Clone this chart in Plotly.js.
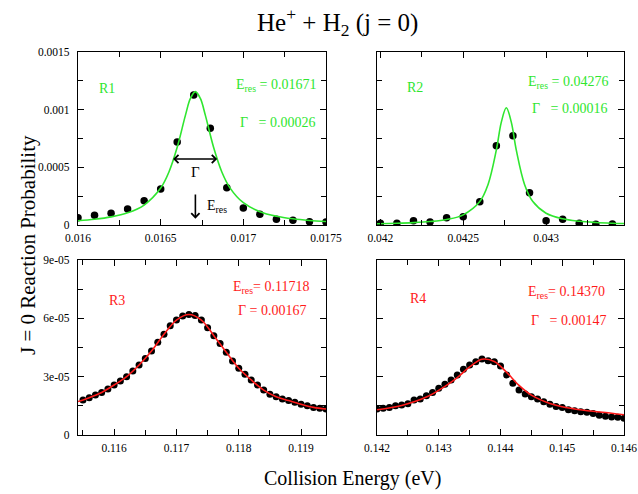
<!DOCTYPE html>
<html>
<head>
<meta charset="utf-8">
<script src="https://cdn.plot.ly/plotly-3.0.1.min.js"></script>
<style>html,body{margin:0;padding:0;background:#fff;}#chart{width:638px;height:494px;}</style>
</head>
<body>
<div id="chart"></div>
<script>
// ---------- data ----------
// R1
const r1Energy = [0.0160,0.0161,0.0162,0.0163,0.0164,0.0165,0.0166,0.0167,0.0168,0.0169,0.0170,0.0171,0.0172,0.0173,0.0174,0.0175];
const r1Prob   = [6.3e-5,8.4e-5,1.01e-4,1.39e-4,2.1e-4,3.12e-4,7.2e-4,1.127e-3,8.38e-4,3.24e-4,1.47e-4,9.3e-5,4.9e-5,4.1e-5,2.9e-5,2.6e-5];
const r1FitEnergy = [0.0160,0.0161,0.0162,0.0163,0.0164,0.0165,0.01655,0.0166,0.01665,0.01668,0.01671,0.01674,0.01677,0.01682,0.01687,0.01692,0.0170,0.0171,0.0172,0.0173,0.0174,0.0175];
const r1FitProb   = [3.7e-5,5.0e-5,7.05e-5,1.056e-4,1.73e-4,3.2e-4,4.6e-4,6.74e-4,9.53e-4,1.097e-3,1.156e-3,1.097e-3,9.53e-4,6.74e-4,4.6e-4,3.2e-4,1.93e-4,1.156e-4,7.6e-5,5.35e-5,3.96e-5,3.05e-5];
// R2
const r2Energy = [0.0420,0.0421,0.0422,0.0423,0.0424,0.0425,0.0426,0.0427,0.0428,0.0429,0.0430,0.0431,0.0432,0.0433,0.0434];
const r2Prob   = [1.5e-5,1.5e-5,3.7e-5,2.6e-5,6.3e-5,7.2e-5,2.02e-4,6.88e-4,7.74e-4,2.8e-4,3.7e-5,4.9e-5,1.5e-5,6e-6,9e-6];
const r2FitEnergy = [0.04198,0.0421,0.0422,0.0423,0.0424,0.0425,0.0426,0.04265,0.0427,0.04273,0.04276,0.04279,0.04282,0.04287,0.04292,0.0430,0.0431,0.0432,0.0433,0.0434,0.04347];
const r2FitProb   = [1.06e-5,1.47e-5,2.03e-5,2.99e-5,4.79e-5,8.8e-5,2.03e-4,3.52e-4,6.51e-4,8.92e-4,1.017e-3,8.92e-4,6.51e-4,3.52e-4,2.03e-4,1.02e-4,5.34e-5,3.25e-5,2.18e-5,1.56e-5,1.28e-5];
// R3
const r3Energy = [0.1155,0.1156,0.1157,0.1158,0.1159,0.1160,0.1161,0.1162,0.1163,0.1164,0.1165,0.1166,0.1167,0.1168,0.1169,0.1170,0.1171,0.1172,0.1173,0.1174,
                  0.1175,0.1176,0.1177,0.1178,0.1179,0.1180,0.1181,0.1182,0.1183,0.1184,0.1185,0.1186,0.1187,0.1188,0.1189,0.1190,0.1191,0.1192,0.1193,0.1194];
const r3Prob   = [1.80e-5,1.92e-5,2.06e-5,2.19e-5,2.37e-5,2.57e-5,2.78e-5,3.00e-5,3.29e-5,3.60e-5,3.94e-5,4.32e-5,4.77e-5,5.18e-5,5.62e-5,5.91e-5,6.12e-5,6.20e-5,6.14e-5,5.91e-5,
                  5.52e-5,5.11e-5,4.71e-5,4.25e-5,3.81e-5,3.43e-5,3.12e-5,2.83e-5,2.57e-5,2.31e-5,2.09e-5,1.97e-5,1.85e-5,1.77e-5,1.68e-5,1.58e-5,1.51e-5,1.42e-5,1.37e-5,1.34e-5];
const r3FitEnergy = [0.11542,0.1156,0.1158,0.1160,0.1162,0.1164,0.1166,0.1168,0.1170,0.1172,0.1174,0.1176,0.1178,0.1180,0.1182,0.1184,0.1186,0.1188,0.1190,0.1192,0.1194];
const r3FitProb   = [1.72e-5,1.92e-5,2.19e-5,2.57e-5,3.00e-5,3.60e-5,4.32e-5,5.18e-5,5.91e-5,6.20e-5,5.91e-5,5.11e-5,4.25e-5,3.43e-5,2.83e-5,2.31e-5,1.97e-5,1.77e-5,1.58e-5,1.42e-5,1.34e-5];
// R4
const r4Energy = [0.1420,0.1421,0.1422,0.1423,0.1424,0.1425,0.1426,0.1427,0.1428,0.1429,0.1430,0.1431,0.1432,0.1433,0.1434,0.1435,0.1436,0.1437,0.1438,0.1439,0.1440,
                  0.1441,0.1442,0.1443,0.1444,0.1445,0.1446,0.1447,0.1448,0.1449,0.1450,0.1451,0.1452,0.1453,0.1454,0.1455,0.1456,0.1457,0.1458,0.1459,0.1460];
const r4Prob   = [1.34e-5,1.37e-5,1.42e-5,1.51e-5,1.54e-5,1.61e-5,1.80e-5,1.85e-5,2.02e-5,2.19e-5,2.40e-5,2.61e-5,2.83e-5,3.09e-5,3.38e-5,3.60e-5,3.77e-5,3.91e-5,3.82e-5,3.77e-5,3.55e-5,
                  3.09e-5,2.66e-5,2.31e-5,2.11e-5,1.97e-5,1.85e-5,1.71e-5,1.58e-5,1.46e-5,1.41e-5,1.30e-5,1.25e-5,1.20e-5,1.17e-5,1.10e-5,1.01e-5,0.96e-5,0.93e-5,0.91e-5,0.86e-5];
const r4FitEnergy = [0.1420,0.1424,0.1428,0.1431,0.1433,0.1435,0.1437,0.1439,0.1441,0.1443,0.1445,0.1448,0.1450,0.1452,0.1455,0.1458,0.1460];
const r4FitProb   = [1.30e-5,1.52e-5,1.95e-5,2.50e-5,2.95e-5,3.50e-5,3.90e-5,3.78e-5,3.22e-5,2.55e-5,2.05e-5,1.62e-5,1.45e-5,1.34e-5,1.22e-5,1.12e-5,1.04e-5];

// tick labels
const topYTickVals = [0, 0.0005, 0.001, 0.0015];
const topYTickText = ["0", "0.0005", "0.001", "0.0015"];
const botYTickVals = [0, 3e-5, 6e-5, 9e-5];
const botYTickText = ["0", "3e-05", "6e-05", "9e-05"];
const r1XTickVals = [0.016, 0.0165, 0.017, 0.0175];
const r1XTickText = ["0.016", "0.0165", "0.017", "0.0175"];
const r2XTickVals = [0.042, 0.0425, 0.043];
const r2XTickText = ["0.042", "0.0425", "0.043"];
const r3XTickVals = [0.116, 0.117, 0.118, 0.119];
const r3XTickText = ["0.116", "0.117", "0.118", "0.119"];
const r4XTickVals = [0.142, 0.143, 0.144, 0.145, 0.146];
const r4XTickText = ["0.142", "0.143", "0.144", "0.145", "0.146"];

// ---------- drawing ----------
const W = 638, H = 494;
const FONT = "Liberation Serif, Times New Roman, serif";
const GREEN = "#2fe62f";
const RED = "#ff1a1a";

const px = v => v / W;
const py = v => 1 - v / H;

function dots(x, y, xa, ya, size) {
  return {x, y, xaxis: xa, yaxis: ya, type: "scatter", mode: "markers",
          marker: {color: "#000", size: size}, hoverinfo: "skip", showlegend: false};
}
function fit(x, y, xa, ya, color) {
  return {x, y, xaxis: xa, yaxis: ya, type: "scatter", mode: "lines",
          line: {color: color, width: 1.6, shape: "spline", smoothing: 1}, hoverinfo: "skip", showlegend: false};
}

const data = [
  dots(r1Energy, r1Prob, "x", "y", 7.5), fit(r1FitEnergy, r1FitProb, "x", "y", GREEN),
  dots(r2Energy, r2Prob, "x2", "y2", 7.5), fit(r2FitEnergy, r2FitProb, "x2", "y2", GREEN),
  dots(r3Energy, r3Prob, "x3", "y3", 7), fit(r3FitEnergy, r3FitProb, "x3", "y3", RED),
  dots(r4Energy, r4Prob, "x4", "y4", 7), fit(r4FitEnergy, r4FitProb, "x4", "y4", RED)
];

function xax(domain, range, vals, text, minorDtick, anchor) {
  return {domain, range, anchor, tickmode: "array", tickvals: vals, ticktext: text,
          showline: true, linecolor: "#000", linewidth: 1.2, mirror: "ticks",
          ticks: "inside", ticklen: 6, tickwidth: 1, tickcolor: "#000",
          minor: {dtick: minorDtick, tick0: 0, ticks: "inside", ticklen: 5, tickwidth: 1, tickcolor: "#000", showgrid: false},
          showgrid: false, zeroline: false, ticklabelstandoff: 2,
          tickfont: {family: FONT, size: 11.5, color: "#000"}};
}
function yax(domain, range, vals, text, minorDtick, anchor, showLabels) {
  return {domain, range, anchor, tickmode: "array", tickvals: vals, ticktext: text,
          showticklabels: showLabels,
          showline: true, linecolor: "#000", linewidth: 1.2, mirror: "ticks",
          ticks: "inside", ticklen: 6, tickwidth: 1, tickcolor: "#000",
          minor: {dtick: minorDtick, tick0: 0, ticks: "inside", ticklen: 5, tickwidth: 1, tickcolor: "#000", showgrid: false},
          showgrid: false, zeroline: false, ticklabelstandoff: 5,
          tickfont: {family: FONT, size: 11.5, color: "#000"}};
}

const leftX = [px(78), px(326)], rightX = [px(377), px(624)];
const topY = [py(225), py(52)], botY = [py(435), py(260)];

function note(x, y, text, color, size, xanchor) {
  return {xref: "paper", yref: "paper", x: px(x), y: py(y), text, showarrow: false,
          xanchor: xanchor || "center", yanchor: "middle",
          font: {family: FONT, size: size || 14, color}};
}
const sp = "\u00a0";

const layout = {
  width: W, height: H, margin: {l: 0, r: 0, t: 0, b: 0},
  paper_bgcolor: "#fff", plot_bgcolor: "#fff", showlegend: false,
  font: {family: FONT, color: "#000"},
  xaxis: xax(leftX, [0.016, 0.0175], r1XTickVals, r1XTickText, 0.00025, "y"),
  yaxis: yax(topY, [0, 0.0015], topYTickVals, topYTickText, 0.00025, "x", true),
  xaxis2: xax(rightX, [0.04198, 0.04347], r2XTickVals, r2XTickText, 0.00025, "y2"),
  yaxis2: yax(topY, [0, 0.0015], topYTickVals, topYTickText, 0.00025, "x2", false),
  xaxis3: xax(leftX, [0.11542, 0.1194], r3XTickVals, r3XTickText, 0.0005, "y3"),
  yaxis3: yax(botY, [0, 9e-5], botYTickVals, botYTickText, 1.5e-5, "x3", true),
  xaxis4: xax(rightX, [0.142, 0.146], r4XTickVals, r4XTickText, 0.0005, "y4"),
  yaxis4: yax(botY, [0, 9e-5], botYTickVals, botYTickText, 1.5e-5, "x4", false),
  annotations: [
    note(337, 22, "He<sup>+</sup> + H<sub>2</sub> (j = 0)", "#000", 25),
    note(352, 478, "Collision Energy (eV)", "#000", 20),
    Object.assign(note(28, 245, "J = 0 Reaction Probability", "#000", 21), {textangle: -90}),
    // R1
    note(107, 88, "R1", GREEN, 14),
    note(318, 85, "E<sub>res</sub> = 0.01671", GREEN, 14, "right"),
    note(318, 122, "Γ" + sp + sp + " = 0.00026", GREEN, 14, "right"),
    // R2
    note(415, 87, "R2", GREEN, 14),
    note(610, 82, "E<sub>res</sub> = 0.04276", GREEN, 14, "right"),
    note(610, 108, "Γ" + sp + sp + " = 0.00016", GREEN, 14, "right"),
    // R3
    note(117, 300, "R3", RED, 14),
    note(311, 287, "E<sub>res</sub>= 0.11718", RED, 14, "right"),
    note(309, 310, "Γ = 0.00167", RED, 14, "right"),
    // R4
    note(418, 298, "R4", RED, 14),
    note(607, 292, "E<sub>res</sub>= 0.14370", RED, 14, "right"),
    note(609, 320, "Γ" + sp + sp + " = 0.00147", RED, 14, "right"),
    // width arrow (Γ) and resonance arrow in R1
    {xref: "x", yref: "y", x: 0.016842, y: 5.72e-4, axref: "x", ayref: "y", ax: 0.016566, ay: 5.72e-4,
     text: "", showarrow: true, arrowhead: 4, startarrowhead: 4, arrowside: "end+start", arrowsize: 1, arrowwidth: 1.6, arrowcolor: "#000"},
    {xref: "x", yref: "y", x: 0.01671, y: 4.62e-4, text: "Γ", showarrow: false, font: {family: FONT, size: 15, color: "#000"}},
    {xref: "x", yref: "y", x: 0.01671, y: 5.5e-5, axref: "x", ayref: "y", ax: 0.01671, ay: 2.77e-4,
     text: "", showarrow: true, arrowhead: 4, arrowsize: 1, arrowwidth: 1.6, arrowcolor: "#000"},
    {xref: "x", yref: "y", x: 0.016768, y: 1.59e-4, text: "E<sub>res</sub>", xanchor: "left", showarrow: false, font: {family: FONT, size: 14, color: "#000"}}
  ]
};

Plotly.newPlot("chart", data, layout, {staticPlot: true, displayModeBar: false});
</script>
</body>
</html>
